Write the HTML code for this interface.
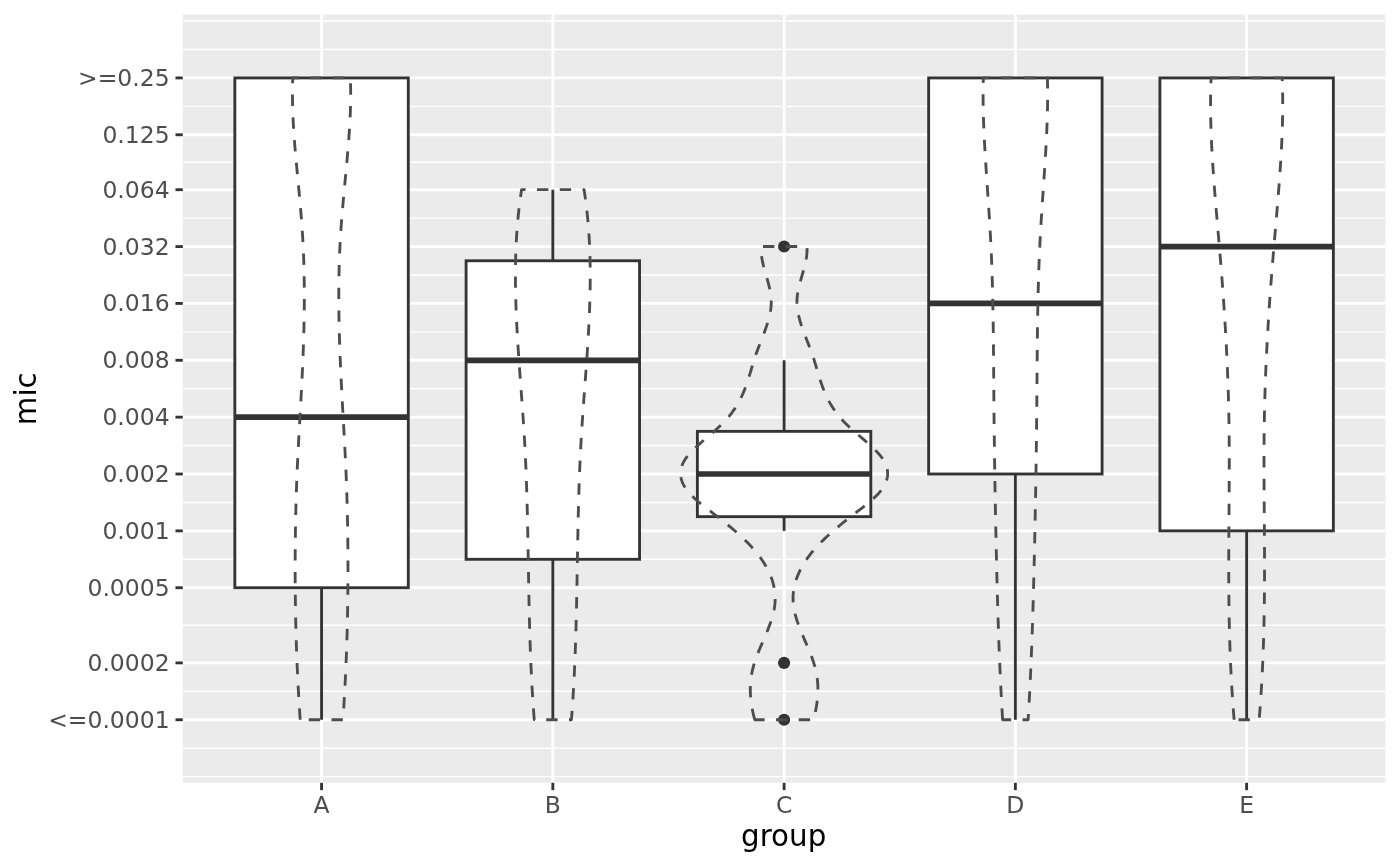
<!DOCTYPE html>
<html lang="en"><head><meta charset="utf-8"><title>mic by group</title>
<style>html,body{margin:0;padding:0;background:#fff}body{width:1400px;height:866px;overflow:hidden}svg{display:block}text{font-family:"DejaVu Sans","Liberation Sans",sans-serif}</style></head><body>
<svg width="1400" height="866" viewBox="0 0 1400 866">
<rect x="0" y="0" width="1400" height="866" fill="#ffffff"/>
<rect x="182.80" y="14.67" width="1202.60" height="768.13" fill="#EBEBEB"/>
<g stroke="#ffffff" stroke-width="1.423" fill="none">
<line x1="182.80" x2="1385.40" y1="691.32" y2="691.32"/>
<line x1="182.80" x2="1385.40" y1="625.31" y2="625.31"/>
<line x1="182.80" x2="1385.40" y1="559.30" y2="559.30"/>
<line x1="182.80" x2="1385.40" y1="502.44" y2="502.44"/>
<line x1="182.80" x2="1385.40" y1="445.58" y2="445.58"/>
<line x1="182.80" x2="1385.40" y1="388.72" y2="388.72"/>
<line x1="182.80" x2="1385.40" y1="331.86" y2="331.86"/>
<line x1="182.80" x2="1385.40" y1="275.00" y2="275.00"/>
<line x1="182.80" x2="1385.40" y1="218.14" y2="218.14"/>
<line x1="182.80" x2="1385.40" y1="162.25" y2="162.25"/>
<line x1="182.80" x2="1385.40" y1="106.36" y2="106.36"/>
<line x1="182.80" x2="1385.40" y1="748.18" y2="748.18"/>
<line x1="182.80" x2="1385.40" y1="776.61" y2="776.61"/>
<line x1="182.80" x2="1385.40" y1="49.50" y2="49.50"/>
<line x1="182.80" x2="1385.40" y1="21.07" y2="21.07"/>
</g>
<g stroke="#ffffff" stroke-width="2.845" fill="none">
<line x1="182.80" x2="1385.40" y1="719.75" y2="719.75"/>
<line x1="182.80" x2="1385.40" y1="662.89" y2="662.89"/>
<line x1="182.80" x2="1385.40" y1="587.73" y2="587.73"/>
<line x1="182.80" x2="1385.40" y1="530.87" y2="530.87"/>
<line x1="182.80" x2="1385.40" y1="474.01" y2="474.01"/>
<line x1="182.80" x2="1385.40" y1="417.15" y2="417.15"/>
<line x1="182.80" x2="1385.40" y1="360.29" y2="360.29"/>
<line x1="182.80" x2="1385.40" y1="303.43" y2="303.43"/>
<line x1="182.80" x2="1385.40" y1="246.57" y2="246.57"/>
<line x1="182.80" x2="1385.40" y1="189.71" y2="189.71"/>
<line x1="182.80" x2="1385.40" y1="134.79" y2="134.79"/>
<line x1="182.80" x2="1385.40" y1="77.93" y2="77.93"/>
<line x1="321.56" x2="321.56" y1="14.67" y2="782.80"/>
<line x1="552.83" x2="552.83" y1="14.67" y2="782.80"/>
<line x1="784.10" x2="784.10" y1="14.67" y2="782.80"/>
<line x1="1015.37" x2="1015.37" y1="14.67" y2="782.80"/>
<line x1="1246.64" x2="1246.64" y1="14.67" y2="782.80"/>
</g>
<g stroke="#333333" stroke-width="2.845" fill="none" stroke-linejoin="miter">
<line x1="321.56" x2="321.56" y1="587.73" y2="719.75"/>
<rect x="234.84" y="77.93" width="173.45" height="509.79" fill="#ffffff"/>
<line x1="234.84" x2="408.29" y1="417.15" y2="417.15" stroke-width="5.690"/>
<line x1="552.83" x2="552.83" y1="260.78" y2="189.71"/>
<line x1="552.83" x2="552.83" y1="559.30" y2="719.75"/>
<rect x="466.10" y="260.78" width="173.45" height="298.52" fill="#ffffff"/>
<line x1="466.10" x2="639.56" y1="360.29" y2="360.29" stroke-width="5.690"/>
<circle cx="784.10" cy="246.57" r="6.05" fill="#333333" stroke="none"/>
<circle cx="784.10" cy="662.89" r="6.05" fill="#333333" stroke="none"/>
<circle cx="784.10" cy="719.75" r="6.05" fill="#333333" stroke="none"/>
<line x1="784.10" x2="784.10" y1="431.36" y2="360.29"/>
<line x1="784.10" x2="784.10" y1="516.65" y2="530.87"/>
<rect x="697.37" y="431.36" width="173.45" height="85.29" fill="#ffffff"/>
<line x1="697.37" x2="870.83" y1="474.01" y2="474.01" stroke-width="5.690"/>
<line x1="1015.37" x2="1015.37" y1="474.01" y2="719.75"/>
<rect x="928.64" y="77.93" width="173.45" height="396.07" fill="#ffffff"/>
<line x1="928.64" x2="1102.10" y1="303.43" y2="303.43" stroke-width="5.690"/>
<line x1="1246.64" x2="1246.64" y1="530.87" y2="719.75"/>
<rect x="1159.91" y="77.93" width="173.45" height="452.93" fill="#ffffff"/>
<line x1="1159.91" x2="1333.36" y1="246.57" y2="246.57" stroke-width="5.690"/>
</g>
<g stroke="#4D4D4D" stroke-width="2.845" fill="none" stroke-linejoin="round" stroke-dasharray="11.38 11.38">
<path d="M300.19 719.75 L299.92 715.71 L299.65 711.68 L299.39 707.64 L299.13 703.60 L298.89 699.57 L298.65 695.53 L298.43 691.49 L298.21 687.46 L298.00 683.42 L297.79 679.38 L297.60 675.35 L297.41 671.31 L297.23 667.27 L297.06 663.23 L296.90 659.20 L296.74 655.16 L296.59 651.12 L296.45 647.09 L296.32 643.05 L296.19 639.01 L296.08 634.98 L295.97 630.94 L295.86 626.90 L295.77 622.87 L295.68 618.83 L295.60 614.79 L295.52 610.76 L295.45 606.72 L295.39 602.68 L295.34 598.65 L295.29 594.61 L295.25 590.57 L295.22 586.54 L295.19 582.50 L295.17 578.46 L295.16 574.43 L295.16 570.39 L295.16 566.35 L295.16 562.32 L295.18 558.28 L295.19 554.24 L295.22 550.20 L295.25 546.17 L295.29 542.13 L295.34 538.09 L295.39 534.06 L295.45 530.02 L295.51 525.98 L295.59 521.95 L295.67 517.91 L295.75 513.87 L295.85 509.84 L295.95 505.80 L296.06 501.76 L296.18 497.73 L296.31 493.69 L296.44 489.65 L296.58 485.62 L296.73 481.58 L296.89 477.54 L297.06 473.51 L297.23 469.47 L297.41 465.43 L297.60 461.40 L297.80 457.36 L298.00 453.32 L298.21 449.28 L298.42 445.25 L298.63 441.21 L298.85 437.17 L299.07 433.14 L299.30 429.10 L299.52 425.06 L299.75 421.03 L299.97 416.99 L300.20 412.95 L300.43 408.92 L300.65 404.88 L300.87 400.84 L301.09 396.81 L301.31 392.77 L301.52 388.73 L301.72 384.70 L301.93 380.66 L302.12 376.62 L302.31 372.59 L302.50 368.55 L302.68 364.51 L302.85 360.48 L303.01 356.44 L303.17 352.40 L303.32 348.37 L303.46 344.33 L303.59 340.29 L303.71 336.25 L303.82 332.22 L303.92 328.18 L304.01 324.14 L304.09 320.11 L304.16 316.07 L304.22 312.03 L304.26 308.00 L304.30 303.96 L304.32 299.92 L304.32 295.89 L304.32 291.85 L304.29 287.81 L304.26 283.78 L304.21 279.74 L304.14 275.70 L304.06 271.67 L303.96 267.63 L303.85 263.59 L303.72 259.56 L303.57 255.52 L303.41 251.48 L303.23 247.45 L303.02 243.41 L302.80 239.37 L302.57 235.33 L302.31 231.30 L302.03 227.26 L301.74 223.22 L301.43 219.19 L301.11 215.15 L300.78 211.11 L300.43 207.08 L300.08 203.04 L299.72 199.00 L299.35 194.97 L298.98 190.93 L298.60 186.89 L298.22 182.86 L297.84 178.82 L297.45 174.78 L297.07 170.75 L296.70 166.71 L296.32 162.67 L295.96 158.64 L295.60 154.60 L295.25 150.56 L294.91 146.53 L294.59 142.49 L294.28 138.45 L293.99 134.42 L293.72 130.38 L293.47 126.34 L293.25 122.30 L293.04 118.27 L292.87 114.23 L292.72 110.19 L292.60 106.16 L292.52 102.12 L292.47 98.08 L292.45 94.05 L292.47 90.01 L292.53 85.97 L292.63 81.94 L292.78 77.90 L350.34 77.90 L350.49 81.94 L350.59 85.97 L350.65 90.01 L350.67 94.05 L350.66 98.08 L350.61 102.12 L350.52 106.16 L350.40 110.19 L350.26 114.23 L350.08 118.27 L349.88 122.30 L349.65 126.34 L349.40 130.38 L349.13 134.42 L348.84 138.45 L348.53 142.49 L348.21 146.53 L347.87 150.56 L347.52 154.60 L347.17 158.64 L346.80 162.67 L346.43 166.71 L346.05 170.75 L345.67 174.78 L345.29 178.82 L344.91 182.86 L344.52 186.89 L344.15 190.93 L343.77 194.97 L343.40 199.00 L343.04 203.04 L342.69 207.08 L342.34 211.11 L342.01 215.15 L341.69 219.19 L341.38 223.22 L341.09 227.26 L340.82 231.30 L340.56 235.33 L340.32 239.37 L340.10 243.41 L339.90 247.45 L339.71 251.48 L339.55 255.52 L339.40 259.56 L339.27 263.59 L339.16 267.63 L339.06 271.67 L338.98 275.70 L338.91 279.74 L338.86 283.78 L338.83 287.81 L338.81 291.85 L338.80 295.89 L338.81 299.92 L338.83 303.96 L338.86 308.00 L338.90 312.03 L338.96 316.07 L339.03 320.11 L339.11 324.14 L339.20 328.18 L339.30 332.22 L339.41 336.25 L339.54 340.29 L339.67 344.33 L339.81 348.37 L339.95 352.40 L340.11 356.44 L340.27 360.48 L340.45 364.51 L340.62 368.55 L340.81 372.59 L341.00 376.62 L341.20 380.66 L341.40 384.70 L341.61 388.73 L341.82 392.77 L342.03 396.81 L342.25 400.84 L342.47 404.88 L342.70 408.92 L342.92 412.95 L343.15 416.99 L343.37 421.03 L343.60 425.06 L343.83 429.10 L344.05 433.14 L344.27 437.17 L344.49 441.21 L344.70 445.25 L344.92 449.28 L345.12 453.32 L345.32 457.36 L345.52 461.40 L345.71 465.43 L345.89 469.47 L346.07 473.51 L346.23 477.54 L346.39 481.58 L346.54 485.62 L346.68 489.65 L346.82 493.69 L346.94 497.73 L347.06 501.76 L347.17 505.80 L347.27 509.84 L347.37 513.87 L347.46 517.91 L347.54 521.95 L347.61 525.98 L347.68 530.02 L347.73 534.06 L347.79 538.09 L347.83 542.13 L347.87 546.17 L347.90 550.20 L347.93 554.24 L347.95 558.28 L347.96 562.32 L347.97 566.35 L347.97 570.39 L347.96 574.43 L347.95 578.46 L347.93 582.50 L347.90 586.54 L347.87 590.57 L347.83 594.61 L347.78 598.65 L347.73 602.68 L347.67 606.72 L347.60 610.76 L347.53 614.79 L347.45 618.83 L347.36 622.87 L347.26 626.90 L347.16 630.94 L347.05 634.98 L346.93 639.01 L346.80 643.05 L346.67 647.09 L346.53 651.12 L346.38 655.16 L346.23 659.20 L346.06 663.23 L345.89 667.27 L345.71 671.31 L345.52 675.35 L345.33 679.38 L345.13 683.42 L344.91 687.46 L344.70 691.49 L344.47 695.53 L344.23 699.57 L343.99 703.60 L343.74 707.64 L343.48 711.68 L343.21 715.71 L342.93 719.75 Z"/>
<path d="M534.26 719.75 L533.99 716.42 L533.74 713.08 L533.50 709.75 L533.26 706.42 L533.03 703.08 L532.81 699.75 L532.60 696.41 L532.39 693.08 L532.20 689.75 L532.00 686.41 L531.82 683.08 L531.65 679.75 L531.48 676.41 L531.31 673.08 L531.16 669.75 L531.01 666.41 L530.86 663.08 L530.72 659.74 L530.59 656.41 L530.46 653.08 L530.34 649.74 L530.22 646.41 L530.11 643.08 L530.00 639.74 L529.90 636.41 L529.80 633.08 L529.70 629.74 L529.61 626.41 L529.52 623.07 L529.43 619.74 L529.35 616.41 L529.27 613.07 L529.20 609.74 L529.12 606.41 L529.05 603.07 L528.98 599.74 L528.92 596.41 L528.85 593.07 L528.79 589.74 L528.73 586.40 L528.67 583.07 L528.61 579.74 L528.55 576.40 L528.49 573.07 L528.43 569.74 L528.37 566.40 L528.32 563.07 L528.26 559.73 L528.20 556.40 L528.14 553.07 L528.09 549.73 L528.03 546.40 L527.97 543.07 L527.90 539.73 L527.84 536.40 L527.78 533.07 L527.71 529.73 L527.64 526.40 L527.57 523.06 L527.50 519.73 L527.42 516.40 L527.34 513.06 L527.26 509.73 L527.17 506.40 L527.09 503.06 L526.99 499.73 L526.90 496.40 L526.80 493.06 L526.69 489.73 L526.59 486.39 L526.47 483.06 L526.36 479.73 L526.23 476.39 L526.11 473.06 L525.97 469.73 L525.83 466.39 L525.69 463.06 L525.54 459.73 L525.38 456.39 L525.22 453.06 L525.05 449.72 L524.88 446.39 L524.69 443.06 L524.50 439.72 L524.31 436.39 L524.10 433.06 L523.90 429.72 L523.68 426.39 L523.46 423.06 L523.24 419.72 L523.01 416.39 L522.78 413.05 L522.54 409.72 L522.30 406.39 L522.06 403.05 L521.82 399.72 L521.58 396.39 L521.33 393.05 L521.09 389.72 L520.84 386.39 L520.59 383.05 L520.35 379.72 L520.10 376.38 L519.86 373.05 L519.62 369.72 L519.38 366.38 L519.15 363.05 L518.91 359.72 L518.68 356.38 L518.46 353.05 L518.24 349.72 L518.02 346.38 L517.81 343.05 L517.61 339.71 L517.41 336.38 L517.22 333.05 L517.04 329.71 L516.86 326.38 L516.69 323.05 L516.54 319.71 L516.38 316.38 L516.24 313.04 L516.11 309.71 L515.99 306.38 L515.88 303.04 L515.78 299.71 L515.69 296.38 L515.62 293.04 L515.55 289.71 L515.50 286.38 L515.46 283.04 L515.44 279.71 L515.43 276.37 L515.44 273.04 L515.46 269.71 L515.49 266.37 L515.54 263.04 L515.61 259.71 L515.70 256.37 L515.80 253.04 L515.92 249.71 L516.05 246.37 L516.21 243.04 L516.38 239.70 L516.58 236.37 L516.79 233.04 L517.03 229.70 L517.28 226.37 L517.56 223.04 L517.86 219.70 L518.18 216.37 L518.52 213.04 L518.88 209.70 L519.27 206.37 L519.69 203.03 L520.12 199.70 L520.58 196.37 L521.07 193.03 L521.58 189.70 L584.08 189.70 L584.59 193.03 L585.08 196.37 L585.54 199.70 L585.98 203.03 L586.39 206.37 L586.78 209.70 L587.14 213.04 L587.48 216.37 L587.80 219.70 L588.10 223.04 L588.38 226.37 L588.63 229.70 L588.87 233.04 L589.08 236.37 L589.28 239.70 L589.45 243.04 L589.61 246.37 L589.75 249.71 L589.86 253.04 L589.97 256.37 L590.05 259.71 L590.12 263.04 L590.17 266.37 L590.21 269.71 L590.23 273.04 L590.23 276.37 L590.22 279.71 L590.20 283.04 L590.16 286.38 L590.11 289.71 L590.05 293.04 L589.97 296.38 L589.88 299.71 L589.78 303.04 L589.67 306.38 L589.55 309.71 L589.42 313.04 L589.28 316.38 L589.13 319.71 L588.97 323.05 L588.80 326.38 L588.62 329.71 L588.44 333.05 L588.25 336.38 L588.05 339.71 L587.85 343.05 L587.64 346.38 L587.42 349.72 L587.20 353.05 L586.98 356.38 L586.75 359.72 L586.52 363.05 L586.28 366.38 L586.04 369.72 L585.80 373.05 L585.56 376.38 L585.31 379.72 L585.07 383.05 L584.82 386.39 L584.58 389.72 L584.33 393.05 L584.08 396.39 L583.84 399.72 L583.60 403.05 L583.36 406.39 L583.12 409.72 L582.88 413.05 L582.65 416.39 L582.42 419.72 L582.20 423.06 L581.98 426.39 L581.77 429.72 L581.56 433.06 L581.35 436.39 L581.16 439.72 L580.97 443.06 L580.79 446.39 L580.61 449.72 L580.44 453.06 L580.28 456.39 L580.12 459.73 L579.97 463.06 L579.83 466.39 L579.69 469.73 L579.56 473.06 L579.43 476.39 L579.31 479.73 L579.19 483.06 L579.08 486.39 L578.97 489.73 L578.86 493.06 L578.76 496.40 L578.67 499.73 L578.58 503.06 L578.49 506.40 L578.40 509.73 L578.32 513.06 L578.24 516.40 L578.17 519.73 L578.09 523.06 L578.02 526.40 L577.95 529.73 L577.89 533.07 L577.82 536.40 L577.76 539.73 L577.70 543.07 L577.63 546.40 L577.58 549.73 L577.52 553.07 L577.46 556.40 L577.40 559.73 L577.34 563.07 L577.29 566.40 L577.23 569.74 L577.17 573.07 L577.11 576.40 L577.06 579.74 L577.00 583.07 L576.94 586.40 L576.87 589.74 L576.81 593.07 L576.75 596.41 L576.68 599.74 L576.61 603.07 L576.54 606.41 L576.47 609.74 L576.39 613.07 L576.31 616.41 L576.23 619.74 L576.14 623.07 L576.05 626.41 L575.96 629.74 L575.87 633.08 L575.77 636.41 L575.66 639.74 L575.55 643.08 L575.44 646.41 L575.32 649.74 L575.20 653.08 L575.07 656.41 L574.94 659.74 L574.80 663.08 L574.66 666.41 L574.50 669.75 L574.35 673.08 L574.19 676.41 L574.02 679.75 L573.84 683.08 L573.66 686.41 L573.47 689.75 L573.27 693.08 L573.06 696.41 L572.85 699.75 L572.63 703.08 L572.40 706.42 L572.17 709.75 L571.92 713.08 L571.67 716.42 L571.40 719.75 Z"/>
<path d="M754.73 719.75 L754.24 717.92 L753.79 716.10 L753.35 714.27 L752.94 712.44 L752.56 710.61 L752.21 708.79 L751.88 706.96 L751.58 705.13 L751.31 703.31 L751.07 701.48 L750.86 699.65 L750.69 697.82 L750.54 696.00 L750.43 694.17 L750.35 692.34 L750.31 690.51 L750.31 688.69 L750.34 686.86 L750.41 685.03 L750.51 683.21 L750.66 681.38 L750.84 679.55 L751.07 677.72 L751.33 675.90 L751.64 674.07 L751.99 672.24 L752.39 670.42 L752.82 668.59 L753.31 666.76 L753.83 664.93 L754.39 663.11 L754.99 661.28 L755.62 659.45 L756.27 657.62 L756.96 655.80 L757.66 653.97 L758.39 652.14 L759.13 650.32 L759.89 648.49 L760.66 646.66 L761.44 644.83 L762.22 643.01 L763.01 641.18 L763.80 639.35 L764.58 637.53 L765.36 635.70 L766.13 633.87 L766.89 632.04 L767.63 630.22 L768.35 628.39 L769.06 626.56 L769.74 624.73 L770.39 622.91 L771.01 621.08 L771.61 619.25 L772.16 617.43 L772.68 615.60 L773.16 613.77 L773.59 611.94 L773.98 610.12 L774.32 608.29 L774.60 606.46 L774.83 604.64 L775.00 602.81 L775.11 600.98 L775.17 599.15 L775.16 597.33 L775.09 595.50 L774.96 593.67 L774.78 591.84 L774.53 590.02 L774.22 588.19 L773.86 586.36 L773.43 584.54 L772.95 582.71 L772.41 580.88 L771.81 579.05 L771.15 577.23 L770.43 575.40 L769.65 573.57 L768.81 571.75 L767.91 569.92 L766.96 568.09 L765.94 566.26 L764.87 564.44 L763.74 562.61 L762.55 560.78 L761.30 558.95 L759.99 557.13 L758.63 555.30 L757.20 553.47 L755.72 551.65 L754.18 549.82 L752.58 547.99 L750.93 546.16 L749.21 544.34 L747.44 542.51 L745.61 540.68 L743.72 538.86 L741.79 537.03 L739.81 535.20 L737.78 533.37 L735.71 531.55 L733.59 529.72 L731.44 527.89 L729.25 526.06 L727.03 524.24 L724.77 522.41 L722.48 520.58 L720.17 518.76 L717.83 516.93 L715.47 515.10 L713.09 513.27 L710.70 511.45 L708.31 509.62 L705.94 507.79 L703.60 505.97 L701.30 504.14 L699.07 502.31 L696.92 500.48 L694.86 498.66 L692.91 496.83 L691.09 495.00 L689.40 493.17 L687.86 491.35 L686.47 489.52 L685.21 487.69 L684.11 485.87 L683.15 484.04 L682.34 482.21 L681.68 480.38 L681.17 478.56 L680.81 476.73 L680.61 474.90 L680.56 473.08 L680.66 471.25 L680.92 469.42 L681.33 467.59 L681.90 465.77 L682.63 463.94 L683.52 462.11 L684.57 460.28 L685.77 458.46 L687.12 456.63 L688.61 454.80 L690.21 452.98 L691.92 451.15 L693.73 449.32 L695.62 447.49 L697.58 445.67 L699.60 443.84 L701.67 442.01 L703.78 440.19 L705.90 438.36 L708.04 436.53 L710.18 434.70 L712.30 432.88 L714.40 431.05 L716.46 429.22 L718.48 427.39 L720.43 425.57 L722.30 423.74 L724.09 421.91 L725.80 420.09 L727.43 418.26 L728.98 416.43 L730.45 414.60 L731.85 412.78 L733.18 410.95 L734.45 409.12 L735.65 407.30 L736.79 405.47 L737.88 403.64 L738.91 401.81 L739.89 399.99 L740.82 398.16 L741.70 396.33 L742.54 394.50 L743.34 392.68 L744.10 390.85 L744.83 389.02 L745.52 387.20 L746.19 385.37 L746.83 383.54 L747.45 381.71 L748.05 379.89 L748.64 378.06 L749.20 376.23 L749.76 374.41 L750.31 372.58 L750.85 370.75 L751.39 368.92 L751.94 367.10 L752.48 365.27 L753.03 363.44 L753.59 361.61 L754.16 359.79 L754.75 357.96 L755.35 356.13 L755.98 354.31 L756.63 352.48 L757.29 350.65 L757.97 348.82 L758.67 347.00 L759.38 345.17 L760.09 343.34 L760.80 341.52 L761.52 339.69 L762.23 337.86 L762.94 336.03 L763.64 334.21 L764.33 332.38 L765.00 330.55 L765.66 328.72 L766.29 326.90 L766.91 325.07 L767.49 323.24 L768.04 321.42 L768.56 319.59 L769.04 317.76 L769.49 315.93 L769.89 314.11 L770.24 312.28 L770.55 310.45 L770.80 308.63 L771.00 306.80 L771.14 304.97 L771.22 303.14 L771.24 301.32 L771.19 299.49 L771.07 297.66 L770.89 295.83 L770.65 294.01 L770.35 292.18 L770.02 290.35 L769.64 288.53 L769.22 286.70 L768.77 284.87 L768.29 283.04 L767.80 281.22 L767.29 279.39 L766.76 277.56 L766.23 275.74 L765.71 273.91 L765.18 272.08 L764.67 270.25 L764.17 268.43 L763.69 266.60 L763.23 264.77 L762.81 262.94 L762.42 261.12 L762.08 259.29 L761.78 257.46 L761.53 255.64 L761.33 253.81 L761.20 251.98 L761.14 250.15 L761.15 248.33 L761.23 246.50 L806.97 246.50 L807.05 248.33 L807.06 250.15 L807.00 251.98 L806.87 253.81 L806.67 255.64 L806.42 257.46 L806.12 259.29 L805.78 261.12 L805.39 262.94 L804.97 264.77 L804.51 266.60 L804.03 268.43 L803.53 270.25 L803.02 272.08 L802.49 273.91 L801.97 275.74 L801.44 277.56 L800.91 279.39 L800.40 281.22 L799.91 283.04 L799.43 284.87 L798.98 286.70 L798.56 288.53 L798.18 290.35 L797.85 292.18 L797.55 294.01 L797.31 295.83 L797.13 297.66 L797.01 299.49 L796.96 301.32 L796.98 303.14 L797.06 304.97 L797.20 306.80 L797.40 308.63 L797.65 310.45 L797.96 312.28 L798.31 314.11 L798.71 315.93 L799.16 317.76 L799.64 319.59 L800.16 321.42 L800.71 323.24 L801.29 325.07 L801.91 326.90 L802.54 328.72 L803.20 330.55 L803.87 332.38 L804.56 334.21 L805.26 336.03 L805.97 337.86 L806.68 339.69 L807.40 341.52 L808.11 343.34 L808.82 345.17 L809.53 347.00 L810.23 348.82 L810.91 350.65 L811.57 352.48 L812.22 354.31 L812.85 356.13 L813.45 357.96 L814.04 359.79 L814.61 361.61 L815.17 363.44 L815.72 365.27 L816.26 367.10 L816.81 368.92 L817.35 370.75 L817.89 372.58 L818.44 374.41 L819.00 376.23 L819.56 378.06 L820.15 379.89 L820.75 381.71 L821.37 383.54 L822.01 385.37 L822.68 387.20 L823.37 389.02 L824.10 390.85 L824.86 392.68 L825.66 394.50 L826.50 396.33 L827.38 398.16 L828.31 399.99 L829.29 401.81 L830.32 403.64 L831.41 405.47 L832.55 407.30 L833.75 409.12 L835.02 410.95 L836.35 412.78 L837.75 414.60 L839.22 416.43 L840.77 418.26 L842.40 420.09 L844.11 421.91 L845.90 423.74 L847.77 425.57 L849.72 427.39 L851.74 429.22 L853.80 431.05 L855.90 432.88 L858.02 434.70 L860.16 436.53 L862.30 438.36 L864.42 440.19 L866.53 442.01 L868.60 443.84 L870.62 445.67 L872.58 447.49 L874.47 449.32 L876.28 451.15 L877.99 452.98 L879.59 454.80 L881.08 456.63 L882.43 458.46 L883.63 460.28 L884.68 462.11 L885.57 463.94 L886.30 465.77 L886.87 467.59 L887.28 469.42 L887.54 471.25 L887.64 473.08 L887.59 474.90 L887.39 476.73 L887.03 478.56 L886.52 480.38 L885.86 482.21 L885.05 484.04 L884.09 485.87 L882.99 487.69 L881.73 489.52 L880.34 491.35 L878.80 493.17 L877.11 495.00 L875.29 496.83 L873.34 498.66 L871.28 500.48 L869.13 502.31 L866.90 504.14 L864.60 505.97 L862.26 507.79 L859.89 509.62 L857.50 511.45 L855.11 513.27 L852.73 515.10 L850.37 516.93 L848.03 518.76 L845.72 520.58 L843.43 522.41 L841.17 524.24 L838.95 526.06 L836.76 527.89 L834.61 529.72 L832.49 531.55 L830.42 533.37 L828.39 535.20 L826.41 537.03 L824.48 538.86 L822.59 540.68 L820.76 542.51 L818.99 544.34 L817.27 546.16 L815.62 547.99 L814.02 549.82 L812.48 551.65 L811.00 553.47 L809.57 555.30 L808.21 557.13 L806.90 558.95 L805.65 560.78 L804.46 562.61 L803.33 564.44 L802.26 566.26 L801.24 568.09 L800.29 569.92 L799.39 571.75 L798.55 573.57 L797.77 575.40 L797.05 577.23 L796.39 579.05 L795.79 580.88 L795.25 582.71 L794.77 584.54 L794.34 586.36 L793.98 588.19 L793.67 590.02 L793.42 591.84 L793.24 593.67 L793.11 595.50 L793.04 597.33 L793.03 599.15 L793.09 600.98 L793.20 602.81 L793.37 604.64 L793.60 606.46 L793.88 608.29 L794.22 610.12 L794.61 611.94 L795.04 613.77 L795.52 615.60 L796.04 617.43 L796.59 619.25 L797.19 621.08 L797.81 622.91 L798.46 624.73 L799.14 626.56 L799.85 628.39 L800.57 630.22 L801.31 632.04 L802.07 633.87 L802.84 635.70 L803.62 637.53 L804.40 639.35 L805.19 641.18 L805.98 643.01 L806.76 644.83 L807.54 646.66 L808.31 648.49 L809.07 650.32 L809.81 652.14 L810.54 653.97 L811.24 655.80 L811.93 657.62 L812.58 659.45 L813.21 661.28 L813.81 663.11 L814.37 664.93 L814.89 666.76 L815.38 668.59 L815.81 670.42 L816.21 672.24 L816.56 674.07 L816.87 675.90 L817.13 677.72 L817.36 679.55 L817.54 681.38 L817.69 683.21 L817.79 685.03 L817.86 686.86 L817.89 688.69 L817.89 690.51 L817.85 692.34 L817.77 694.17 L817.66 696.00 L817.51 697.82 L817.34 699.65 L817.13 701.48 L816.89 703.31 L816.62 705.13 L816.32 706.96 L815.99 708.79 L815.64 710.61 L815.26 712.44 L814.85 714.27 L814.41 716.10 L813.96 717.92 L813.47 719.75 Z"/>
<path d="M1002.62 719.75 L1002.37 715.71 L1002.14 711.68 L1001.90 707.64 L1001.68 703.60 L1001.46 699.57 L1001.24 695.53 L1001.03 691.49 L1000.83 687.46 L1000.63 683.42 L1000.44 679.38 L1000.25 675.35 L1000.07 671.31 L999.89 667.27 L999.72 663.23 L999.55 659.20 L999.38 655.16 L999.22 651.12 L999.07 647.09 L998.91 643.05 L998.77 639.01 L998.62 634.98 L998.48 630.94 L998.35 626.90 L998.21 622.87 L998.08 618.83 L997.96 614.79 L997.83 610.76 L997.71 606.72 L997.59 602.68 L997.48 598.65 L997.36 594.61 L997.25 590.57 L997.15 586.54 L997.04 582.50 L996.94 578.46 L996.84 574.43 L996.74 570.39 L996.64 566.35 L996.54 562.32 L996.45 558.28 L996.35 554.24 L996.26 550.20 L996.17 546.17 L996.08 542.13 L995.99 538.09 L995.91 534.06 L995.82 530.02 L995.74 525.98 L995.65 521.95 L995.57 517.91 L995.49 513.87 L995.42 509.84 L995.34 505.80 L995.27 501.76 L995.19 497.73 L995.12 493.69 L995.05 489.65 L994.98 485.62 L994.91 481.58 L994.85 477.54 L994.78 473.51 L994.72 469.47 L994.66 465.43 L994.60 461.40 L994.54 457.36 L994.49 453.32 L994.43 449.28 L994.38 445.25 L994.33 441.21 L994.28 437.17 L994.23 433.14 L994.18 429.10 L994.13 425.06 L994.09 421.03 L994.05 416.99 L994.01 412.95 L993.97 408.92 L993.93 404.88 L993.90 400.84 L993.86 396.81 L993.83 392.77 L993.80 388.73 L993.77 384.70 L993.74 380.66 L993.71 376.62 L993.68 372.59 L993.65 368.55 L993.62 364.51 L993.58 360.48 L993.55 356.44 L993.51 352.40 L993.48 348.37 L993.44 344.33 L993.39 340.29 L993.35 336.25 L993.30 332.22 L993.25 328.18 L993.19 324.14 L993.13 320.11 L993.07 316.07 L993.00 312.03 L992.93 308.00 L992.85 303.96 L992.76 299.92 L992.67 295.89 L992.58 291.85 L992.47 287.81 L992.36 283.78 L992.24 279.74 L992.12 275.70 L991.99 271.67 L991.85 267.63 L991.70 263.59 L991.54 259.56 L991.37 255.52 L991.20 251.48 L991.01 247.45 L990.82 243.41 L990.61 239.37 L990.40 235.33 L990.17 231.30 L989.94 227.26 L989.70 223.22 L989.45 219.19 L989.20 215.15 L988.94 211.11 L988.67 207.08 L988.41 203.04 L988.14 199.00 L987.86 194.97 L987.59 190.93 L987.32 186.89 L987.04 182.86 L986.77 178.82 L986.50 174.78 L986.23 170.75 L985.97 166.71 L985.71 162.67 L985.45 158.64 L985.20 154.60 L984.96 150.56 L984.73 146.53 L984.51 142.49 L984.30 138.45 L984.11 134.42 L983.92 130.38 L983.76 126.34 L983.60 122.30 L983.47 118.27 L983.35 114.23 L983.26 110.19 L983.18 106.16 L983.13 102.12 L983.09 98.08 L983.09 94.05 L983.11 90.01 L983.15 85.97 L983.22 81.94 L983.33 77.90 L1047.41 77.90 L1047.51 81.94 L1047.59 85.97 L1047.63 90.01 L1047.65 94.05 L1047.64 98.08 L1047.61 102.12 L1047.56 106.16 L1047.48 110.19 L1047.39 114.23 L1047.27 118.27 L1047.14 122.30 L1046.98 126.34 L1046.82 130.38 L1046.63 134.42 L1046.44 138.45 L1046.23 142.49 L1046.01 146.53 L1045.78 150.56 L1045.54 154.60 L1045.29 158.64 L1045.03 162.67 L1044.77 166.71 L1044.51 170.75 L1044.24 174.78 L1043.97 178.82 L1043.70 182.86 L1043.42 186.89 L1043.15 190.93 L1042.87 194.97 L1042.60 199.00 L1042.33 203.04 L1042.06 207.08 L1041.80 211.11 L1041.54 215.15 L1041.29 219.19 L1041.04 223.22 L1040.80 227.26 L1040.57 231.30 L1040.34 235.33 L1040.13 239.37 L1039.92 243.41 L1039.73 247.45 L1039.54 251.48 L1039.36 255.52 L1039.20 259.56 L1039.04 263.59 L1038.89 267.63 L1038.75 271.67 L1038.62 275.70 L1038.49 279.74 L1038.38 283.78 L1038.27 287.81 L1038.16 291.85 L1038.07 295.89 L1037.98 299.92 L1037.89 303.96 L1037.81 308.00 L1037.74 312.03 L1037.67 316.07 L1037.60 320.11 L1037.54 324.14 L1037.49 328.18 L1037.44 332.22 L1037.39 336.25 L1037.34 340.29 L1037.30 344.33 L1037.26 348.37 L1037.22 352.40 L1037.19 356.44 L1037.15 360.48 L1037.12 364.51 L1037.09 368.55 L1037.06 372.59 L1037.03 376.62 L1037.00 380.66 L1036.97 384.70 L1036.94 388.73 L1036.91 392.77 L1036.87 396.81 L1036.84 400.84 L1036.81 404.88 L1036.77 408.92 L1036.73 412.95 L1036.69 416.99 L1036.65 421.03 L1036.60 425.06 L1036.56 429.10 L1036.51 433.14 L1036.46 437.17 L1036.41 441.21 L1036.36 445.25 L1036.31 449.28 L1036.25 453.32 L1036.20 457.36 L1036.14 461.40 L1036.08 465.43 L1036.02 469.47 L1035.95 473.51 L1035.89 477.54 L1035.82 481.58 L1035.76 485.62 L1035.69 489.65 L1035.62 493.69 L1035.55 497.73 L1035.47 501.76 L1035.40 505.80 L1035.32 509.84 L1035.24 513.87 L1035.16 517.91 L1035.08 521.95 L1035.00 525.98 L1034.92 530.02 L1034.83 534.06 L1034.75 538.09 L1034.66 542.13 L1034.57 546.17 L1034.48 550.20 L1034.39 554.24 L1034.29 558.28 L1034.20 562.32 L1034.10 566.35 L1034.00 570.39 L1033.90 574.43 L1033.80 578.46 L1033.70 582.50 L1033.59 586.54 L1033.48 590.57 L1033.37 594.61 L1033.26 598.65 L1033.15 602.68 L1033.03 606.72 L1032.91 610.76 L1032.78 614.79 L1032.66 618.83 L1032.53 622.87 L1032.39 626.90 L1032.26 630.94 L1032.12 634.98 L1031.97 639.01 L1031.82 643.05 L1031.67 647.09 L1031.52 651.12 L1031.36 655.16 L1031.19 659.20 L1031.02 663.23 L1030.85 667.27 L1030.67 671.31 L1030.49 675.35 L1030.30 679.38 L1030.11 683.42 L1029.91 687.46 L1029.70 691.49 L1029.50 695.53 L1029.28 699.57 L1029.06 703.60 L1028.83 707.64 L1028.60 711.68 L1028.36 715.71 L1028.12 719.75 Z"/>
<path d="M1234.12 719.75 L1233.78 715.71 L1233.47 711.68 L1233.16 707.64 L1232.87 703.60 L1232.59 699.57 L1232.32 695.53 L1232.06 691.49 L1231.81 687.46 L1231.58 683.42 L1231.36 679.38 L1231.14 675.35 L1230.94 671.31 L1230.75 667.27 L1230.57 663.23 L1230.40 659.20 L1230.24 655.16 L1230.09 651.12 L1229.94 647.09 L1229.81 643.05 L1229.69 639.01 L1229.57 634.98 L1229.46 630.94 L1229.36 626.90 L1229.27 622.87 L1229.19 618.83 L1229.11 614.79 L1229.05 610.76 L1228.99 606.72 L1228.93 602.68 L1228.89 598.65 L1228.85 594.61 L1228.81 590.57 L1228.78 586.54 L1228.76 582.50 L1228.75 578.46 L1228.74 574.43 L1228.73 570.39 L1228.73 566.35 L1228.74 562.32 L1228.74 558.28 L1228.76 554.24 L1228.77 550.20 L1228.79 546.17 L1228.81 542.13 L1228.84 538.09 L1228.86 534.06 L1228.89 530.02 L1228.92 525.98 L1228.95 521.95 L1228.98 517.91 L1229.01 513.87 L1229.04 509.84 L1229.07 505.80 L1229.10 501.76 L1229.13 497.73 L1229.15 493.69 L1229.18 489.65 L1229.20 485.62 L1229.22 481.58 L1229.24 477.54 L1229.25 473.51 L1229.26 469.47 L1229.27 465.43 L1229.27 461.40 L1229.26 457.36 L1229.25 453.32 L1229.24 449.28 L1229.22 445.25 L1229.19 441.21 L1229.16 437.17 L1229.12 433.14 L1229.08 429.10 L1229.02 425.06 L1228.96 421.03 L1228.89 416.99 L1228.81 412.95 L1228.72 408.92 L1228.63 404.88 L1228.52 400.84 L1228.41 396.81 L1228.29 392.77 L1228.16 388.73 L1228.02 384.70 L1227.88 380.66 L1227.73 376.62 L1227.57 372.59 L1227.40 368.55 L1227.22 364.51 L1227.04 360.48 L1226.85 356.44 L1226.66 352.40 L1226.45 348.37 L1226.24 344.33 L1226.03 340.29 L1225.80 336.25 L1225.57 332.22 L1225.34 328.18 L1225.10 324.14 L1224.85 320.11 L1224.59 316.07 L1224.33 312.03 L1224.06 308.00 L1223.79 303.96 L1223.51 299.92 L1223.23 295.89 L1222.94 291.85 L1222.65 287.81 L1222.35 283.78 L1222.04 279.74 L1221.73 275.70 L1221.42 271.67 L1221.10 267.63 L1220.77 263.59 L1220.44 259.56 L1220.11 255.52 L1219.77 251.48 L1219.43 247.45 L1219.08 243.41 L1218.74 239.37 L1218.39 235.33 L1218.04 231.30 L1217.69 227.26 L1217.35 223.22 L1217.00 219.19 L1216.66 215.15 L1216.31 211.11 L1215.97 207.08 L1215.64 203.04 L1215.31 199.00 L1214.98 194.97 L1214.66 190.93 L1214.35 186.89 L1214.05 182.86 L1213.75 178.82 L1213.46 174.78 L1213.18 170.75 L1212.91 166.71 L1212.64 162.67 L1212.40 158.64 L1212.16 154.60 L1211.93 150.56 L1211.72 146.53 L1211.53 142.49 L1211.35 138.45 L1211.18 134.42 L1211.04 130.38 L1210.91 126.34 L1210.80 122.30 L1210.71 118.27 L1210.64 114.23 L1210.59 110.19 L1210.57 106.16 L1210.57 102.12 L1210.59 98.08 L1210.64 94.05 L1210.71 90.01 L1210.81 85.97 L1210.93 81.94 L1211.09 77.90 L1282.19 77.90 L1282.34 81.94 L1282.47 85.97 L1282.57 90.01 L1282.64 94.05 L1282.69 98.08 L1282.71 102.12 L1282.71 106.16 L1282.68 110.19 L1282.64 114.23 L1282.57 118.27 L1282.48 122.30 L1282.37 126.34 L1282.24 130.38 L1282.09 134.42 L1281.93 138.45 L1281.75 142.49 L1281.55 146.53 L1281.34 150.56 L1281.12 154.60 L1280.88 158.64 L1280.63 162.67 L1280.37 166.71 L1280.10 170.75 L1279.82 174.78 L1279.53 178.82 L1279.23 182.86 L1278.93 186.89 L1278.61 190.93 L1278.29 194.97 L1277.97 199.00 L1277.64 203.04 L1277.30 207.08 L1276.96 211.11 L1276.62 215.15 L1276.28 219.19 L1275.93 223.22 L1275.58 227.26 L1275.23 231.30 L1274.89 235.33 L1274.54 239.37 L1274.19 243.41 L1273.85 247.45 L1273.51 251.48 L1273.17 255.52 L1272.84 259.56 L1272.51 263.59 L1272.18 267.63 L1271.86 271.67 L1271.55 275.70 L1271.24 279.74 L1270.93 283.78 L1270.63 287.81 L1270.34 291.85 L1270.05 295.89 L1269.76 299.92 L1269.48 303.96 L1269.21 308.00 L1268.95 312.03 L1268.68 316.07 L1268.43 320.11 L1268.18 324.14 L1267.94 328.18 L1267.70 332.22 L1267.47 336.25 L1267.25 340.29 L1267.03 344.33 L1266.82 348.37 L1266.62 352.40 L1266.42 356.44 L1266.23 360.48 L1266.05 364.51 L1265.88 368.55 L1265.71 372.59 L1265.55 376.62 L1265.40 380.66 L1265.25 384.70 L1265.12 388.73 L1264.99 392.77 L1264.87 396.81 L1264.76 400.84 L1264.65 404.88 L1264.56 408.92 L1264.47 412.95 L1264.39 416.99 L1264.32 421.03 L1264.26 425.06 L1264.20 429.10 L1264.15 433.14 L1264.11 437.17 L1264.08 441.21 L1264.06 445.25 L1264.04 449.28 L1264.02 453.32 L1264.01 457.36 L1264.01 461.40 L1264.01 465.43 L1264.02 469.47 L1264.03 473.51 L1264.04 477.54 L1264.06 481.58 L1264.08 485.62 L1264.10 489.65 L1264.12 493.69 L1264.15 497.73 L1264.18 501.76 L1264.21 505.80 L1264.24 509.84 L1264.27 513.87 L1264.30 517.91 L1264.33 521.95 L1264.36 525.98 L1264.39 530.02 L1264.41 534.06 L1264.44 538.09 L1264.46 542.13 L1264.49 546.17 L1264.50 550.20 L1264.52 554.24 L1264.53 558.28 L1264.54 562.32 L1264.55 566.35 L1264.54 570.39 L1264.54 574.43 L1264.53 578.46 L1264.51 582.50 L1264.49 586.54 L1264.46 590.57 L1264.43 594.61 L1264.39 598.65 L1264.34 602.68 L1264.29 606.72 L1264.23 610.76 L1264.16 614.79 L1264.09 618.83 L1264.00 622.87 L1263.91 626.90 L1263.81 630.94 L1263.71 634.98 L1263.59 639.01 L1263.47 643.05 L1263.33 647.09 L1263.19 651.12 L1263.04 655.16 L1262.88 659.20 L1262.71 663.23 L1262.53 667.27 L1262.33 671.31 L1262.13 675.35 L1261.92 679.38 L1261.70 683.42 L1261.46 687.46 L1261.22 691.49 L1260.96 695.53 L1260.69 699.57 L1260.41 703.60 L1260.12 707.64 L1259.81 711.68 L1259.49 715.71 L1259.16 719.75 Z"/>
</g>
<g stroke="#333333" stroke-width="2.845" fill="none">
<line x1="175.47" x2="182.80" y1="719.75" y2="719.75"/>
<line x1="175.47" x2="182.80" y1="662.89" y2="662.89"/>
<line x1="175.47" x2="182.80" y1="587.73" y2="587.73"/>
<line x1="175.47" x2="182.80" y1="530.87" y2="530.87"/>
<line x1="175.47" x2="182.80" y1="474.01" y2="474.01"/>
<line x1="175.47" x2="182.80" y1="417.15" y2="417.15"/>
<line x1="175.47" x2="182.80" y1="360.29" y2="360.29"/>
<line x1="175.47" x2="182.80" y1="303.43" y2="303.43"/>
<line x1="175.47" x2="182.80" y1="246.57" y2="246.57"/>
<line x1="175.47" x2="182.80" y1="189.71" y2="189.71"/>
<line x1="175.47" x2="182.80" y1="134.79" y2="134.79"/>
<line x1="175.47" x2="182.80" y1="77.93" y2="77.93"/>
<line x1="321.56" x2="321.56" y1="782.80" y2="790.13"/>
<line x1="552.83" x2="552.83" y1="782.80" y2="790.13"/>
<line x1="784.10" x2="784.10" y1="782.80" y2="790.13"/>
<line x1="1015.37" x2="1015.37" y1="782.80" y2="790.13"/>
<line x1="1246.64" x2="1246.64" y1="782.80" y2="790.13"/>
</g>
<g fill="#4D4D4D" font-size="23.47px">
<text x="169.60" y="727.75" text-anchor="end">&lt;=0.0001</text>
<text x="169.60" y="670.89" text-anchor="end">0.0002</text>
<text x="169.60" y="595.73" text-anchor="end">0.0005</text>
<text x="169.60" y="538.87" text-anchor="end">0.001</text>
<text x="169.60" y="482.01" text-anchor="end">0.002</text>
<text x="169.60" y="425.15" text-anchor="end">0.004</text>
<text x="169.60" y="368.29" text-anchor="end">0.008</text>
<text x="169.60" y="311.43" text-anchor="end">0.016</text>
<text x="169.60" y="254.57" text-anchor="end">0.032</text>
<text x="169.60" y="197.71" text-anchor="end">0.064</text>
<text x="169.60" y="142.79" text-anchor="end">0.125</text>
<text x="169.60" y="85.93" text-anchor="end">&gt;=0.25</text>
<text x="321.56" y="812.80" text-anchor="middle">A</text>
<text x="552.83" y="812.80" text-anchor="middle">B</text>
<text x="784.10" y="812.80" text-anchor="middle">C</text>
<text x="1015.37" y="812.80" text-anchor="middle">D</text>
<text x="1246.64" y="812.80" text-anchor="middle">E</text>
</g>
<g fill="#000000" font-size="29.33px">
<text x="783.70" y="845.80" text-anchor="middle">group</text>
<text transform="translate(36.10 398.73) rotate(-90)" text-anchor="middle">mic</text>
</g>
</svg></body></html>
